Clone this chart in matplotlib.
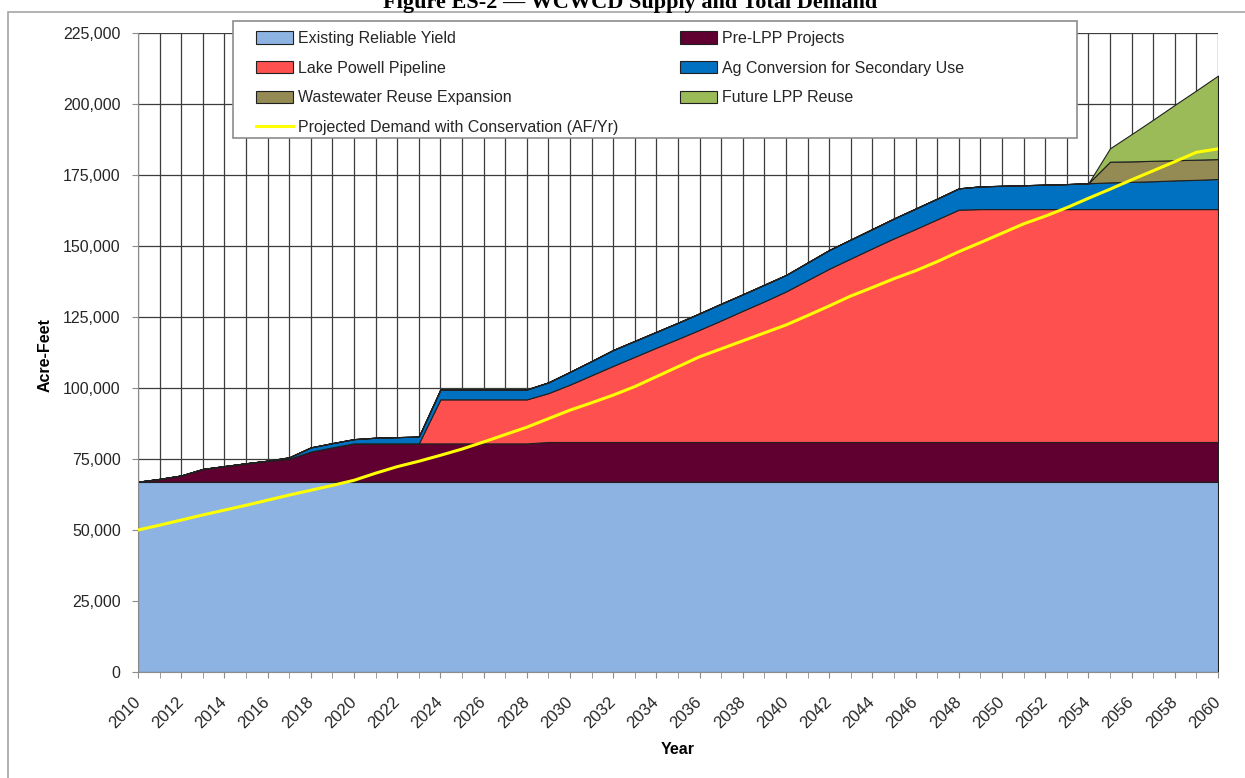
import matplotlib
matplotlib.use("Agg")
import matplotlib.pyplot as plt
from matplotlib import font_manager
from matplotlib.patches import Rectangle
from matplotlib.ticker import MultipleLocator, FuncFormatter

# ===== data (acre-feet) =====
years = list(range(2010, 2061))

existing_yield = [67000] * 51

pre_lpp = [0, 1000, 2200, 4500, 5500, 6500, 7400, 8100, 10600, 12100,
           13500, 13500, 13500, 13500, 13500, 13500, 13500, 13500, 13500,
           14000, 14000, 14000, 14000, 14000, 14000, 14000, 14000, 14000,
           14000, 14000, 14000, 14000, 14000, 14000, 14000, 14000, 14000,
           14000, 14000, 14000, 14000, 14000, 14000, 14000, 14000, 14000,
           14000, 14000, 14000, 14000, 14000]

lake_powell = [0, 0, 0, 0, 0, 0, 0, 0, 0, 0, 0, 0, 0, 0,
               15500, 15500, 15500, 15500, 15500,
               17200, 20200, 23500, 26800, 30000, 33200, 36300, 39500, 42800,
               46200, 49500, 53000, 57000, 61000, 64600, 68200, 71700, 75000,
               78400, 81800,
               82000, 82000, 82000, 82000, 82000, 82000, 82000, 82000, 82000,
               82000, 82000, 82000]

ag_conversion = [0, 0, 0, 0, 0, 0, 0, 500, 1500, 1500, 1500, 2000, 2200, 2400,
                 3500, 3500, 3500, 3500, 3500, 3800, 4500, 5000, 5600, 5600,
                 5600, 5700, 5800, 5900, 5800, 5900, 5800, 6200, 6600, 6700,
                 6800, 7000, 7200, 7300, 7500, 8000, 8200, 8400, 8600, 8800,
                 9100, 9400, 9600, 9800, 10100, 10300, 10600]

wastewater = [0] * 45 + [7300, 7200, 7200, 7100, 7100, 7000]

future_lpp_reuse = [0] * 45 + [4700, 9600, 14500, 19500, 24400, 29400]

demand = [50000, 51700, 53500, 55300, 57000, 58700, 60500, 62300, 64000, 65700,
          67500, 70000, 72300, 74200, 76300, 78500, 81000, 83600, 86200, 89200,
          92200, 94800, 97500, 100500, 104000, 107500, 111000, 113800, 116600,
          119400, 122200, 125500, 128900, 132400, 135400, 138500, 141300,
          144500, 148000, 151200, 154500, 157800, 160500, 163500, 166800,
          170000, 173300, 176500, 179700, 183000, 184200]

labels = ["Existing Reliable Yield", "Pre-LPP Projects", "Lake Powell Pipeline",
          "Ag Conversion for Secondary Use", "Wastewater Reuse Expansion",
          "Future LPP Reuse"]
colors = ["#8DB3E2", "#5F0030", "#FF5050", "#0070C0", "#948A54", "#9BBB59"]

# ===== fonts =====
avail = {f.name for f in font_manager.fontManager.ttflist}
sans = "Liberation Sans Narrow" if "Liberation Sans Narrow" in avail else "Liberation Sans"
big = 13 if sans == "Liberation Sans Narrow" else 11.5
plt.rcParams["font.family"] = [sans, "DejaVu Sans"]

# ===== chart =====
fig = plt.figure(figsize=(12.45, 7.78), dpi=100)
ax = fig.add_axes([138 / 1245, 1 - 672 / 778, 1080 / 1245, 639 / 778])

polys = ax.stackplot(years, existing_yield, pre_lpp, lake_powell, ag_conversion,
                     wastewater, future_lpp_reuse, colors=colors, labels=labels,
                     edgecolor="#202020", linewidth=0.8, zorder=2)
line, = ax.plot(years, demand, color="#FFFF00", lw=2.2, zorder=3,
                label="Projected Demand with Conservation (AF/Yr)")

ax.set_xlim(2010, 2060)
ax.set_ylim(0, 225000)
ax.xaxis.set_major_locator(MultipleLocator(2))
ax.xaxis.set_minor_locator(MultipleLocator(1))
ax.yaxis.set_major_locator(MultipleLocator(25000))
ax.yaxis.set_major_formatter(FuncFormatter(lambda v, p: f"{int(v):,}"))

ax.set_axisbelow(True)
ax.grid(True, which="both", axis="x", color="#3c3c3c", lw=0.9)
ax.grid(True, which="major", axis="y", color="#3c3c3c", lw=0.9)

for s in ["top", "right"]:
    ax.spines[s].set_visible(False)
for s in ["left", "bottom"]:
    ax.spines[s].set_color("#8c8c8c")

ax.tick_params(axis="y", length=4.5, color="#8c8c8c", pad=8, labelsize=big,
               labelcolor="#262626")
ax.tick_params(axis="x", which="both", length=4.5, color="#8c8c8c")
ax.tick_params(axis="x", labelsize=big + 0.5, pad=15, labelcolor="#262626")
for t in ax.get_xticklabels():
    t.set_rotation(45)
    t.set_ha("right")
    t.set_va("center")
    t.set_rotation_mode("anchor")

# legend box drawn by hand so it covers the same area as the original
fig.patches.append(Rectangle((233 / 1245, 1 - 138 / 778), 844 / 1245, 117 / 778,
                             transform=fig.transFigure, facecolor="white",
                             edgecolor="#8c8c8c", lw=1.2, zorder=1))

# legend, row order like the original
h = polys + [line]
order = [0, 2, 4, 6, 1, 3, 5]
leg = fig.legend([h[i] for i in order], [h[i].get_label() for i in order],
                 loc="upper left", ncol=2,
                 bbox_to_anchor=(256 / 1245, 1 - 31 / 778),
                 bbox_transform=fig.transFigure, fontsize=big, frameon=False,
                 handlelength=2.3, handleheight=0.8, handletextpad=0.3,
                 labelspacing=0.92, columnspacing=3.9, borderaxespad=0,
                 borderpad=0)
leg.set_zorder(5)
for t in leg.get_texts():
    t.set_color("#262626")

# labels and title
fig.text(45 / 1245, 1 - 355 / 778, "Acre-Feet", rotation=90, ha="center",
         va="center", fontsize=big, weight="bold")
fig.text(678 / 1245, 1 - 750 / 778, "Year", ha="center", va="center",
         fontsize=big, weight="bold")
fig.text(630 / 1245, 1 - 8 / 778, "Figure ES-2 \u2014 WCWCD Supply and Total Demand",
         ha="center", va="baseline", family="Liberation Serif", weight="bold",
         fontsize=16)

fig.patches.append(Rectangle((8 / 1245, -0.1), 1.2, 1.1 - 12 / 778,
                             transform=fig.transFigure, fill=False,
                             edgecolor="#a6a6a6", lw=1.2))

fig.savefig("out.png", dpi=100)
